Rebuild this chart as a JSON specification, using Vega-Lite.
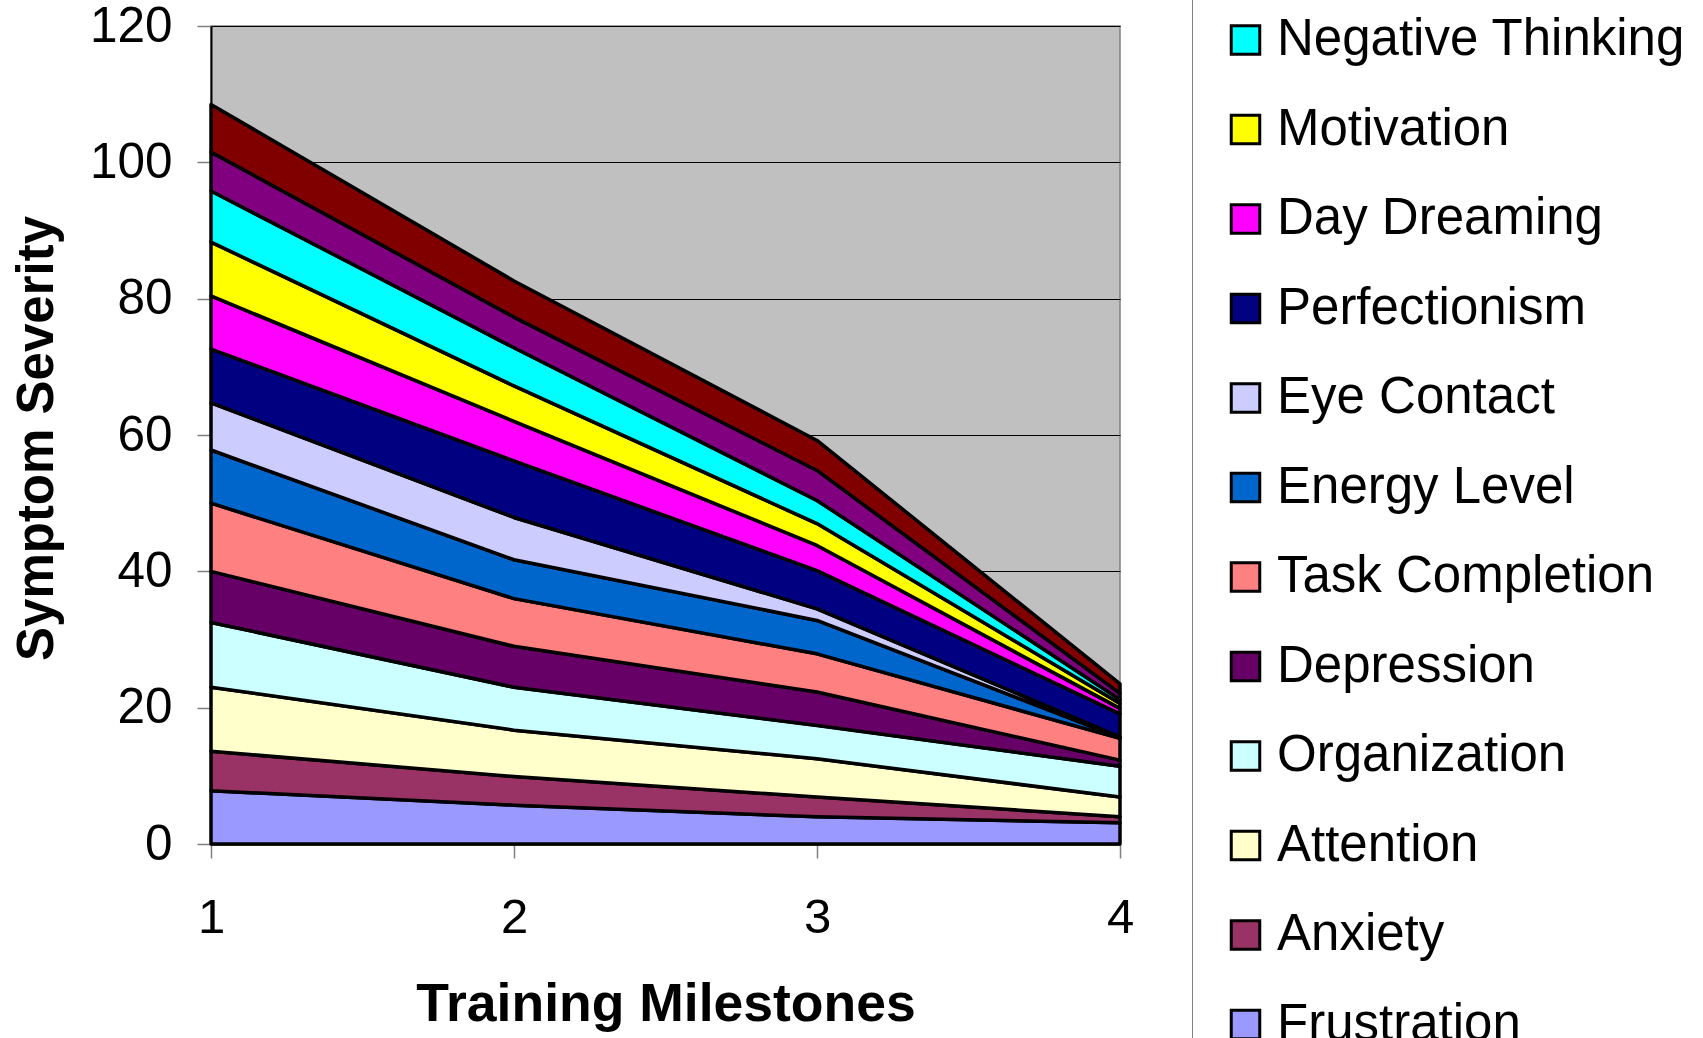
{
  "$schema": "https://vega.github.io/schema/vega-lite/v6.json",
  "width": 909,
  "height": 818,
  "autosize": {"type": "none"},
  "padding": {"left": 211, "top": 26, "right": 583, "bottom": 194},
  "background": "white",
  "config": {
    "font": "Liberation Sans",
    "view": {"fill": "#C0C0C0", "stroke": "#808080", "strokeWidth": 1.5}
  },
  "data": {
    "values": [
      {"m": 1, "s": "Frustration", "k": 1, "v": 7.8},
      {"m": 2, "s": "Frustration", "k": 1, "v": 5.7},
      {"m": 3, "s": "Frustration", "k": 1, "v": 4.0},
      {"m": 4, "s": "Frustration", "k": 1, "v": 3.1},
      {"m": 1, "s": "Anxiety", "k": 2, "v": 5.8},
      {"m": 2, "s": "Anxiety", "k": 2, "v": 4.2},
      {"m": 3, "s": "Anxiety", "k": 2, "v": 2.9},
      {"m": 4, "s": "Anxiety", "k": 2, "v": 0.9},
      {"m": 1, "s": "Attention", "k": 3, "v": 9.4},
      {"m": 2, "s": "Attention", "k": 3, "v": 6.8},
      {"m": 3, "s": "Attention", "k": 3, "v": 5.6},
      {"m": 4, "s": "Attention", "k": 3, "v": 2.9},
      {"m": 1, "s": "Organization", "k": 4, "v": 9.5},
      {"m": 2, "s": "Organization", "k": 4, "v": 6.3},
      {"m": 3, "s": "Organization", "k": 4, "v": 4.9},
      {"m": 4, "s": "Organization", "k": 4, "v": 4.5},
      {"m": 1, "s": "Depression", "k": 5, "v": 7.5},
      {"m": 2, "s": "Depression", "k": 5, "v": 6.0},
      {"m": 3, "s": "Depression", "k": 5, "v": 4.9},
      {"m": 4, "s": "Depression", "k": 5, "v": 0.9},
      {"m": 1, "s": "Task Completion", "k": 6, "v": 10.0},
      {"m": 2, "s": "Task Completion", "k": 6, "v": 7.0},
      {"m": 3, "s": "Task Completion", "k": 6, "v": 5.6},
      {"m": 4, "s": "Task Completion", "k": 6, "v": 3.2},
      {"m": 1, "s": "Energy Level", "k": 7, "v": 7.8},
      {"m": 2, "s": "Energy Level", "k": 7, "v": 5.7},
      {"m": 3, "s": "Energy Level", "k": 7, "v": 4.9},
      {"m": 4, "s": "Energy Level", "k": 7, "v": 0.1},
      {"m": 1, "s": "Eye Contact", "k": 8, "v": 6.9},
      {"m": 2, "s": "Eye Contact", "k": 8, "v": 6.2},
      {"m": 3, "s": "Eye Contact", "k": 8, "v": 1.7},
      {"m": 4, "s": "Eye Contact", "k": 8, "v": 0.1},
      {"m": 1, "s": "Perfectionism", "k": 9, "v": 7.9},
      {"m": 2, "s": "Perfectionism", "k": 9, "v": 8.3},
      {"m": 3, "s": "Perfectionism", "k": 9, "v": 5.6},
      {"m": 4, "s": "Perfectionism", "k": 9, "v": 3.4},
      {"m": 1, "s": "Day Dreaming", "k": 10, "v": 7.8},
      {"m": 2, "s": "Day Dreaming", "k": 10, "v": 5.8},
      {"m": 3, "s": "Day Dreaming", "k": 10, "v": 3.7},
      {"m": 4, "s": "Day Dreaming", "k": 10, "v": 0.8},
      {"m": 1, "s": "Motivation", "k": 11, "v": 7.9},
      {"m": 2, "s": "Motivation", "k": 11, "v": 5.2},
      {"m": 3, "s": "Motivation", "k": 11, "v": 3.2},
      {"m": 4, "s": "Motivation", "k": 11, "v": 0.7},
      {"m": 1, "s": "Negative Thinking", "k": 12, "v": 7.5},
      {"m": 2, "s": "Negative Thinking", "k": 12, "v": 5.6},
      {"m": 3, "s": "Negative Thinking", "k": 12, "v": 3.4},
      {"m": 4, "s": "Negative Thinking", "k": 12, "v": 0.6},
      {"m": 1, "s": "Series 13", "k": 13, "v": 5.7},
      {"m": 2, "s": "Series 13", "k": 13, "v": 4.5},
      {"m": 3, "s": "Series 13", "k": 13, "v": 4.4},
      {"m": 4, "s": "Series 13", "k": 13, "v": 0.9},
      {"m": 1, "s": "Series 14", "k": 14, "v": 7.0},
      {"m": 2, "s": "Series 14", "k": 14, "v": 5.3},
      {"m": 3, "s": "Series 14", "k": 14, "v": 4.4},
      {"m": 4, "s": "Series 14", "k": 14, "v": 1.4}
    ]
  },
  "mark": {"type": "area", "stroke": "black", "strokeWidth": 3.5, "strokeJoin": "round", "opacity": 1, "interpolate": "linear"},
  "encoding": {
    "x": {
      "field": "m",
      "type": "quantitative",
      "scale": {"domain": [1, 4], "nice": false, "zero": false},
      "axis": {
        "values": [1, 2, 3, 4],
        "format": "d",
        "title": "Training Milestones",
        "grid": false,
        "domainColor": "black",
        "domainWidth": 2,
        "tickColor": "#808080",
        "tickWidth": 1.5,
        "tickSize": 14,
        "labelFlush": false,
        "labelFont": "Liberation Sans",
        "labelFontSize": 49,
        "labelColor": "black",
        "labelPadding": 35,
        "titleFont": "Liberation Sans",
        "titleFontSize": 53.5,
        "titleFontWeight": "bold",
        "titleColor": "black",
        "titleX": 454.5,
        "titleY": 176,
        "titleBaseline": "alphabetic",
        "titleAlign": "center"
      }
    },
    "y": {
      "field": "v",
      "type": "quantitative",
      "stack": "zero",
      "scale": {"domain": [0, 120], "nice": false},
      "axis": {
        "values": [0, 20, 40, 60, 80, 100, 120],
        "title": "Symptom Severity",
        "grid": true,
        "gridColor": "black",
        "gridWidth": 1,
        "gridOpacity": 1,
        "domainColor": "black",
        "domainWidth": 2,
        "tickColor": "#808080",
        "tickWidth": 1.5,
        "tickSize": 14,
        "labelFont": "Liberation Sans",
        "labelFontSize": 49.5,
        "labelColor": "black",
        "labelPadding": 25,
        "titleFont": "Liberation Sans",
        "titleFontSize": 51,
        "titleFontWeight": "bold",
        "titleColor": "black",
        "titleAngle": -90,
        "titleX": -159,
        "titleY": 412,
        "titleBaseline": "alphabetic",
        "titleAlign": "center"
      }
    },
    "color": {
      "field": "s",
      "type": "nominal",
      "sort": null,
      "scale": {
        "domain": ["Series 14", "Series 13", "Negative Thinking", "Motivation", "Day Dreaming", "Perfectionism", "Eye Contact", "Energy Level", "Task Completion", "Depression", "Organization", "Attention", "Anxiety", "Frustration"],
        "range": ["#800000", "#800080", "#00FFFF", "#FFFF00", "#FF00FF", "#000080", "#CCCCFF", "#0066CC", "#FF8080", "#660066", "#CCFFFF", "#FFFFCC", "#993366", "#9999FF"]
      },
      "legend": {
        "title": null,
        "orient": "none",
        "legendX": 981,
        "legendY": -218.5,
        "padding": 28,
        "strokeColor": "#808080",
        "symbolType": "square",
        "symbolSize": 812,
        "symbolStrokeColor": "black",
        "symbolStrokeWidth": 3,
        "symbolOpacity": 1,
        "labelFont": "Liberation Sans",
        "labelFontSize": 51,
        "labelColor": "black",
        "labelLimit": 800,
        "labelOffset": 6,
        "rowPadding": 37.5
      }
    },
    "order": {"field": "k", "sort": "ascending"}
  }
}
